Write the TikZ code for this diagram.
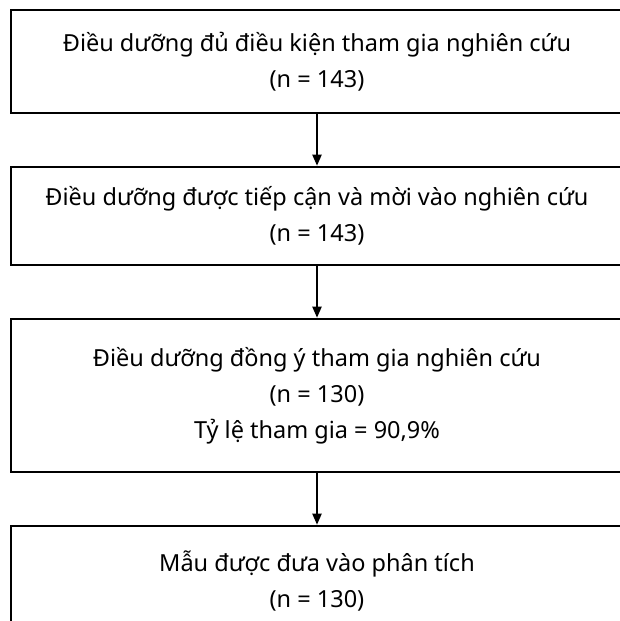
\documentclass[tikz,border=0pt]{standalone}
\usepackage{fontspec}
\setmainfont{Noto Sans}
\usetikzlibrary{arrows.meta}
\tikzset{
  box/.style={draw=black, line width=2.5pt, minimum width=612pt, align=center,
    inner sep=0pt, font=\fontsize{23.5pt}{36pt}\selectfont},
  flowarrow/.style={line width=2pt, -{Triangle[width=9pt,length=11pt]}}
}
\begin{document}
\begin{tikzpicture}[x=1pt,y=1pt]
\useasboundingbox (0,0) rectangle (620,621);
\fill[white] (0,0) rectangle (620,621);
\node[box, minimum height=103pt] (b1) at (317,559.5)
  {Điều dưỡng đủ điều kiện tham gia nghiên cứu\\(n = 143)};
\node[box, minimum height=98pt] (b2) at (317,405)
  {Điều dưỡng được tiếp cận và mời vào nghiên cứu\\(n = 143)};
\node[box, minimum height=153pt] (b3) at (317,225.5)
  {Điều dưỡng đồng ý tham gia nghiên cứu\\(n = 130)\\Tỷ lệ tham gia = 90,9\%};
\node[box, minimum height=110pt] (b4) at (317,40)
  {Mẫu được đưa vào phân tích\\(n = 130)};
\draw[flowarrow] (b1.south) -- (b2.north);
\draw[flowarrow] (b2.south) -- (b3.north);
\draw[flowarrow] (b3.south) -- (b4.north);
\end{tikzpicture}
\end{document}
